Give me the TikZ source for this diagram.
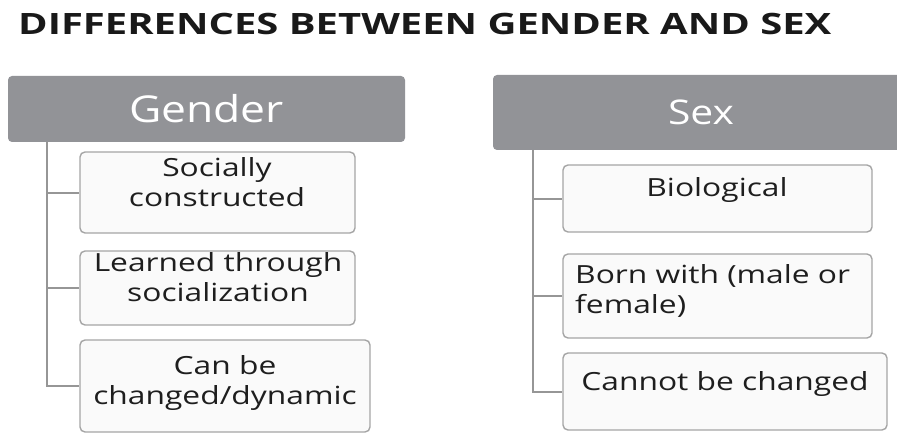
\documentclass[tikz,border=0pt]{standalone}
\usepackage{fontspec}
\setmainfont{Open Sans}[FakeStretch=1.2]
\newfontfamily\titlefont{Open Sans}[FakeStretch=1.36]
\newfontfamily\itemfont{Open Sans}[FakeStretch=1.27]
\usetikzlibrary{positioning}
\definecolor{headgray}{RGB}{146,147,151}
\definecolor{boxline}{RGB}{165,165,165}
\definecolor{boxfill}{RGB}{250,250,250}
\definecolor{linkgray}{RGB}{150,150,150}
\definecolor{inkdark}{RGB}{30,30,30}

\begin{document}
\begin{tikzpicture}[
  x=1pt, y=-1pt,
  head/.style={draw=none, fill=headgray, rounded corners=4pt, inner sep=0pt, text=white},
  itembox/.style={draw=boxline, line width=1.4pt, fill=boxfill, rounded corners=5pt, inner sep=0pt},
  itemtext/.style={inner sep=0pt, text=inkdark, align=center, font=\itemfont\fontsize{25}{30}\selectfont},
  link/.style={draw=linkgray, line width=2pt}
]
\useasboundingbox (0,0) rectangle (897,433);

\node[anchor=base west, inner sep=0pt, text=black!90, font=\titlefont\fontsize{29.4}{32}\selectfont\bfseries] (title) at (18,35) {DIFFERENCES BETWEEN GENDER AND SEX};

% Headers
\node[head, minimum width=397pt, minimum height=66pt, font=\fontsize{37}{40}\selectfont] (gender) at (206.5,109) {Gender};
\node[head, minimum width=412pt, minimum height=75pt] (sex) at (699,112.5) {};
\node[inner sep=0pt, text=white, font=\fontsize{34}{38}\selectfont] (sexlbl) at (701,112.5) {Sex};

% Gender items
\node[itembox, minimum width=275pt, minimum height=81pt] (g1) at (217.5,192.5) {};
\node[itembox, minimum width=275pt, minimum height=74pt] (g2) at (217.5,288) {};
\node[itembox, minimum width=290pt, minimum height=92pt] (g3) at (225,386) {};
\node[itemtext, anchor=north] (g1t) at (217,157) {Socially\\constructed};
\node[itemtext, anchor=north] (g2t) at (218,252) {Learned through\\socialization};
\node[itemtext, anchor=north] (g3t) at (225,355) {Can be\\changed/dynamic};

% Sex items
\node[itembox, minimum width=309pt, minimum height=67pt] (s1) at (717.5,198.5) {};
\node[itembox, minimum width=309pt, minimum height=84pt] (s2) at (717.5,296) {};
\node[itembox, minimum width=324pt, minimum height=77pt] (s3) at (725,391.5) {};
\node[itemtext, anchor=north] (s1t) at (717,177) {Biological};
\node[itemtext, anchor=north west, align=left] (s2t) at (575,264) {Born with (male or\\female)};
\node[itemtext, anchor=north] (s3t) at (725,371) {Cannot be changed};

% Connectors
\coordinate (gtrunk) at (47,142);
\coordinate (strunk) at (533,150);
\draw[link] (gtrunk) |- (g3.west);
\draw[link] (gtrunk |- g1.west) -- (g1.west);
\draw[link] (gtrunk |- g2.west) -- (g2.west);
\draw[link] (strunk) |- (s3.west);
\draw[link] (strunk |- s1.west) -- (s1.west);
\draw[link] (strunk |- s2.west) -- (s2.west);
\end{tikzpicture}
\end{document}
